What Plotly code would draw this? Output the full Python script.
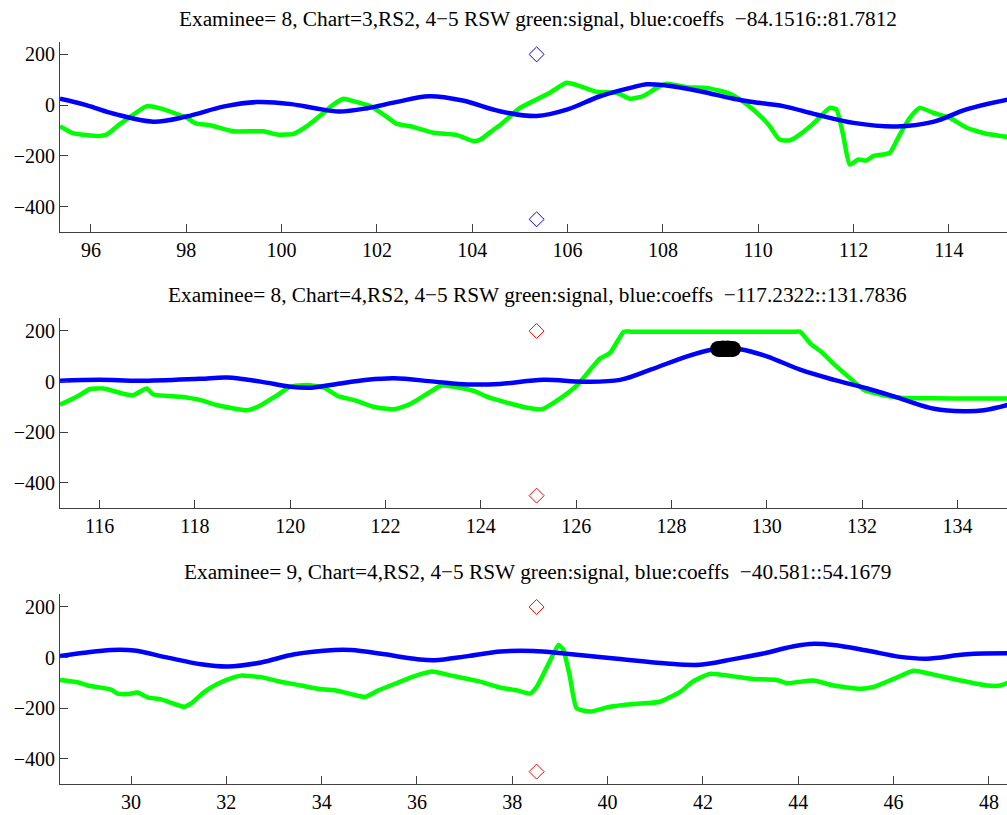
import plotly.graph_objects as go

# ---------------- data ----------------
titles = [
    "Examinee= 8, Chart=3,RS2, 4\u22125 RSW green:signal, blue:coeffs  \u221284.1516::81.7812",
    "Examinee= 8, Chart=4,RS2, 4\u22125 RSW green:signal, blue:coeffs  \u2212117.2322::131.7836",
    "Examinee= 9, Chart=4,RS2, 4\u22125 RSW green:signal, blue:coeffs  \u221240.581::54.1679",
]
x_ranges = [[95.35, 115.22], [115.17, 135.04], [28.51, 48.38]]

# panel 1
sig1_t = [95.35, 95.6, 95.9, 96.19, 96.33, 96.6, 96.89, 97.17, 97.45, 97.73, 98.01, 98.2, 98.5, 98.99,
          99.62, 99.9, 100.25, 100.53, 100.8, 101.09, 101.3, 101.5, 101.86, 102.14, 102.42, 102.7,
          103.19, 103.68, 104.03, 104.17, 104.45, 104.6, 105.0, 105.28, 105.63, 105.98, 106.26,
          106.6, 107.03, 107.31, 107.59, 107.87, 108.08, 108.5, 108.92, 109.41, 109.76, 110.1,
          110.24, 110.45, 110.66, 110.87, 111.15, 111.5, 111.64, 111.78, 111.92, 112.1, 112.27,
          112.41, 112.76, 112.97, 113.18, 113.39, 113.67, 114.02, 114.37, 114.79, 115.3]
sig1_v = [-83, -109, -118, -122, -116, -76, -37, -4, -13, -30, -50, -72, -79, -103,
          -103, -116, -113, -83, -43, 3, 25, 16, -4, -37, -74, -83,
          -109, -118, -142, -136, -96, -76, -11, 16, 49, 88, 75,
          53, 49, 25, 36, 68, 84, 71, 68, 45, 3, -53,
          -83, -136, -139, -116, -74, -11, -17, -116, -234, -214, -218,
          -201, -188, -116, -50, -11, -30, -50, -89, -113, -127]
coef1_t = [95.35, 95.9, 96.5, 97.31, 98.0, 98.8, 99.48, 100.2, 100.7, 101.2, 101.8, 102.4, 103.1,
           103.8, 104.58, 105.35, 106.0, 106.68, 107.38, 107.66, 108.0, 108.78, 109.48, 110.0,
           110.52, 111.22, 112.0, 112.9, 113.67, 114.37, 115.3]
coef1_v = [25, 0, -35, -65, -45, -5, 12, 4, -12, -25, -12, 12, 35,
           18, -24, -43, -17, 35, 71, 82, 79, 55, 25, 9,
           -4, -37, -70, -84, -66, -17, 24]
mark1_t = [105.35, 105.35]
mark1_v = [200, -450]

# panel 2
sig2_t = [115.17, 115.52, 115.8, 116.08, 116.22, 116.57, 116.71, 116.99, 117.13, 117.7, 118.12,
          118.47, 119.1, 119.31, 119.73, 120.0, 120.36, 120.71, 120.99, 121.34, 121.76, 122.18,
          122.53, 122.88, 123.16, 123.44, 123.86, 124.14, 124.4, 124.89, 125.28, 125.66, 126.01,
          126.5, 126.71, 127.0, 127.15, 127.9, 128.8, 129.7, 130.55, 130.7, 130.92, 131.13, 131.41,
          131.83, 132.04, 132.39, 132.81, 133.5, 134.3, 135.1]
sig2_v = [-91, -60, -29, -27, -33, -51, -53, -27, -51, -60, -73,
          -93, -113, -100, -53, -20, -13, -24, -56, -73, -100, -109,
          -87, -47, -16, -20, -37, -60, -75, -100, -109, -67, -16,
          91, 113, 197, 197, 197, 197, 197, 197, 197, 149, 120, 69,
          0, -33, -51, -64, -66, -67, -67]
coef2_t = [115.17, 116.0, 116.85, 118.1, 118.68, 119.38, 120.0, 120.43, 120.92, 121.62, 122.18,
           123.02, 123.72, 124.4, 125.31, 126.15, 126.92, 127.56, 128.33, 128.89, 129.15, 129.45,
           130.0, 130.7, 131.41, 132.11, 132.81, 133.51, 134.14, 134.56, 135.1]
coef2_v = [3, 7, 3, 11, 16, 0, -20, -24, -11, 7, 13,
           0, -11, -9, 7, 0, 7, 47, 100, 128, 132, 128,
           100, 47, 7, -27, -67, -107, -117, -113, -90]
peak2_t = [128.98, 129.08, 129.18, 129.29]
peak2_v = [129, 131, 131, 129]
mark2_t = [125.17, 125.17]
mark2_v = [200, -450]

# panel 3
sig3_t = [28.51, 28.88, 29.09, 29.58, 29.72, 29.93, 30.14, 30.35, 30.63, 30.91, 31.12, 31.26,
          31.54, 31.82, 32.17, 32.31, 32.73, 33.08, 33.57, 33.92, 34.27, 34.62, 34.91, 35.19,
          35.54, 35.89, 36.31, 36.73, 37.29, 37.76, 38.09, 38.37, 38.51, 38.79, 38.97, 39.07,
          39.21, 39.35, 39.63, 40.05, 40.54, 41.1, 41.52, 41.8, 42.15, 42.64, 43.06, 43.55,
          43.76, 44.32, 44.74, 45.3, 45.58, 46.0, 46.42, 46.84, 47.4, 47.96, 48.24, 48.45]
sig3_v = [-88, -97, -110, -126, -142, -144, -138, -157, -165, -183, -194, -181,
          -135, -103, -77, -71, -77, -93, -110, -123, -129, -144, -155, -129,
          -103, -77, -55, -71, -93, -119, -129, -142, -116, -13, 50, 32,
          -77, -200, -213, -194, -183, -174, -135, -93, -64, -74, -84, -88,
          -101, -90, -110, -123, -116, -84, -52, -67, -90, -110, -110, -95]
coef3_t = [28.51, 29.02, 29.58, 30.07, 30.77, 31.47, 32.03, 32.73, 33.43, 34.27, 34.62, 35.32,
           36.01, 36.37, 37.07, 37.76, 38.44, 39.14, 40.2, 41.24, 41.94, 42.64, 43.34, 43.76,
           44.25, 44.74, 45.44, 46.14, 46.7, 47.54, 48.45]
coef3_v = [6, 19, 30, 28, 0, -26, -35, -19, 13, 30, 30, 13,
           -6, -10, 6, 24, 26, 15, -4, -23, -28, -6, 19, 39,
           54, 50, 28, 3, -4, 13, 17]
mark3_t = [38.51, 38.51]
mark3_v = [200, -450]

panels = [
    (sig1_t, sig1_v, coef1_t, coef1_v, mark1_t, mark1_v, "#0000ff"),
    (sig2_t, sig2_v, coef2_t, coef2_v, mark2_t, mark2_v, "#ff0000"),
    (sig3_t, sig3_v, coef3_t, coef3_v, mark3_t, mark3_v, "#ff0000"),
]

# ---------------- layout geometry ----------------
W, H = 1007, 815
domains = [[1 - 232 / H, 1 - 41.7 / H], [1 - 508.3 / H, 1 - 318.3 / H], [1 - 784.3 / H, 1 - 594.3 / H]]
title_y = [1 - 19.5 / H, 1 - 295 / H, 1 - 571.5 / H]

FONT = "Liberation Serif, Times New Roman, serif"
AX = "#404040"

fig = go.Figure()
for i, (st, sv, ct, cv, mt, mv, mcol) in enumerate(panels):
    xa = "x" if i == 0 else f"x{i+1}"
    ya = "y" if i == 0 else f"y{i+1}"
    fig.add_trace(go.Scatter(x=st, y=sv, mode="lines", xaxis=xa, yaxis=ya,
                             line=dict(color="#00ff00", width=4.5, shape="spline", smoothing=0.5),
                             hoverinfo="skip"))
    fig.add_trace(go.Scatter(x=ct, y=cv, mode="lines", xaxis=xa, yaxis=ya,
                             line=dict(color="#0000ff", width=4.5, shape="spline", smoothing=1.0),
                             hoverinfo="skip"))
    if i == 1:
        fig.add_trace(go.Scatter(x=peak2_t, y=peak2_v, mode="lines+markers", xaxis=xa, yaxis=ya,
                                 line=dict(color="black", width=16),
                                 marker=dict(color="black", size=16), hoverinfo="skip"))
    fig.add_trace(go.Scatter(x=mt, y=mv, mode="markers", xaxis=xa, yaxis=ya,
                             marker=dict(symbol="diamond-open", size=11.5, color=mcol,
                                         line=dict(color=mcol, width=1)), hoverinfo="skip"))

    axis_common = dict(showline=True, linecolor=AX, linewidth=1, ticks="inside", ticklen=8,
                       tickcolor=AX, tickwidth=1, showgrid=False, zeroline=False, mirror=False,
                       tickfont=dict(family=FONT, size=20, color="black"))
    fig.layout[("xaxis" if i == 0 else f"xaxis{i+1}")] = dict(
        axis_common, domain=[0, 1], range=x_ranges[i], dtick=2, anchor=ya)
    fig.layout[("yaxis" if i == 0 else f"yaxis{i+1}")] = dict(
        axis_common, domain=domains[i], range=[-500, 250], tickvals=[-400, -200, 0, 200], anchor=xa)
    fig.add_annotation(text=titles[i], xref="paper", yref="paper", x=(537.5 - 60) / (W - 60),
                       y=title_y[i], xanchor="center", yanchor="middle", showarrow=False,
                       font=dict(family=FONT, size=21.3, color="black"))

fig.update_layout(width=W, height=H, margin=dict(l=60, r=0, t=0, b=0),
                  paper_bgcolor="white", plot_bgcolor="white", showlegend=False)

fig.write_html("out.html")
